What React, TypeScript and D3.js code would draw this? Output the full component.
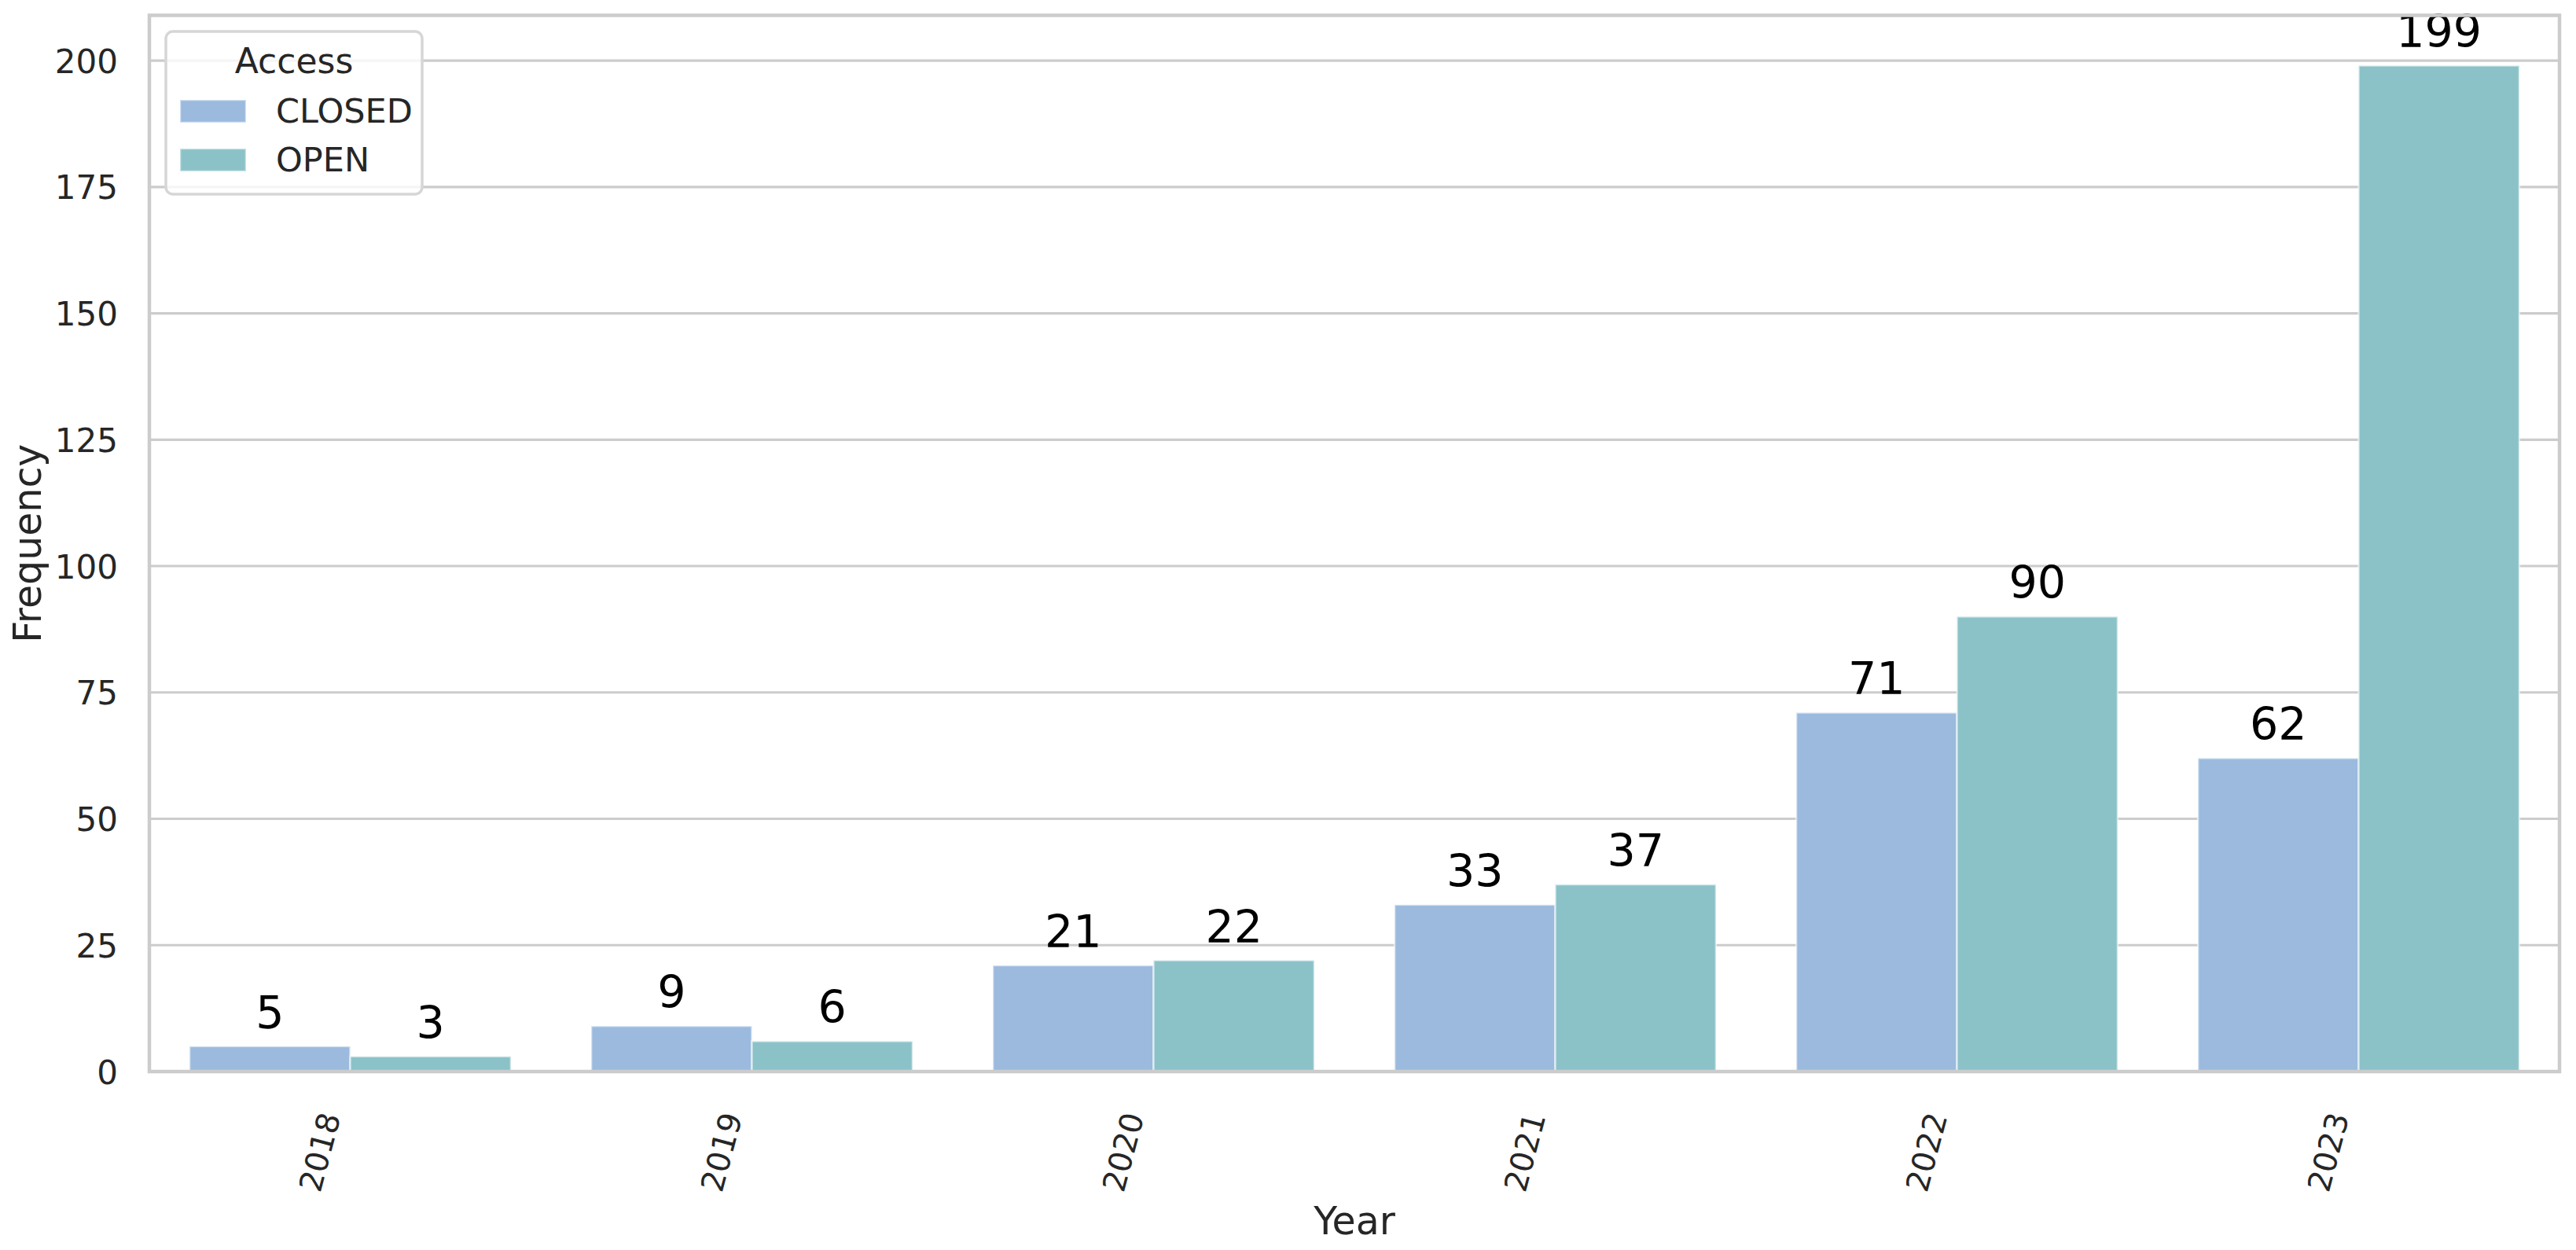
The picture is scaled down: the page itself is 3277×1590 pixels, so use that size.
import React from "react";
import * as d3 from "d3";

const years = ["2018", "2019", "2020", "2021", "2022", "2023"];
const accessTypes = ["CLOSED", "OPEN"];
const closedValues = [5, 9, 21, 33, 71, 62];
const openValues = [3, 6, 22, 37, 90, 199];
const yTicks = [0, 25, 50, 75, 100, 125, 150, 175, 200];
const colors = ["rgb(155,186,222)", "rgb(138,194,200)"];

const W = 3277;
const H = 1590;
const left = 190;
const right = 3256;
const top = 19.5;
const bottom = 1363;

export default function App() {
  const x = d3.scaleBand<string>().domain(years).range([left, right]).paddingInner(0.2).paddingOuter(0.1);
  const xh = d3.scaleBand<string>().domain(accessTypes).range([0, x.bandwidth()]).padding(0);
  const y = d3.scaleLinear().domain([0, 199 * 1.05]).range([bottom, top]);
  const series = [closedValues, openValues];
  const textColor = "#262626";
  const font = "DejaVu Sans, sans-serif";

  return (
    <svg width={W} height={H} style={{ position: "absolute", left: 0, top: 0, background: "#fff" }} fontFamily={font}>
      <rect x={0} y={0} width={W} height={H} fill="#fff" />
      {yTicks.map((t) => (
        <line key={"g" + t} x1={left} x2={right} y1={y(t)} y2={y(t)} stroke="#cccccc" strokeWidth={3.2} />
      ))}
      {series.map((vals, si) =>
        vals.map((v, i) => {
          const x0 = (x(years[i]) as number) + (xh(accessTypes[si]) as number);
          const bw = xh.bandwidth();
          return (
            <g key={"b" + si + "-" + i}>
              <rect x={x0} y={y(v)} width={bw} height={y(0) - y(v)} fill={colors[si]} stroke="rgba(255,255,255,0.55)" strokeWidth={2.5} />
              <text x={x0 + bw / 2} y={y(v) - 23} textAnchor="middle" fontSize={57} fill="#000">
                {v}
              </text>
            </g>
          );
        })
      )}
      {/* spines */}
      <rect x={left} y={top} width={right - left} height={bottom - top} fill="none" stroke="#cccccc" strokeWidth={4.5} />
      {/* y ticks */}
      {yTicks.map((t) => (
        <text key={"yt" + t} x={150} y={y(t) + 15.5} textAnchor="end" fontSize={42} fill={textColor}>
          {t}
        </text>
      ))}
      {/* x ticks */}
      {years.map((yr) => {
        const c = (x(yr) as number) + x.bandwidth() / 2;
        return (
          <text key={"xt" + yr} transform={`translate(${c - 12},${1420}) rotate(-75)`} textAnchor="end" fontSize={40} fill={textColor}>
            {yr}
          </text>
        );
      })}
      <text x={(left + right) / 2} y={1570} textAnchor="middle" fontSize={49} fill={textColor}>
        Year
      </text>
      <text transform={`translate(52,${(top + bottom) / 2}) rotate(-90)`} textAnchor="middle" fontSize={49} fill={textColor}>
        Frequency
      </text>
      {/* legend */}
      <g>
        <rect x={211} y={40} width={326} height={207} rx={9} ry={9} fill="rgba(255,255,255,0.8)" stroke="#d6d6d6" strokeWidth={3.5} />
        <text x={374} y={93} textAnchor="middle" fontSize={44} fill={textColor}>
          Access
        </text>
        {accessTypes.map((a, i) => (
          <g key={"lg" + a}>
            <rect x={229} y={127 + i * 62} width={84} height={29} fill={colors[i]} stroke="rgba(255,255,255,0.55)" strokeWidth={2.5} />
            <text x={351} y={156 + i * 62} fontSize={43} fill={textColor}>
              {a}
            </text>
          </g>
        ))}
      </g>
    </svg>
  );
}
